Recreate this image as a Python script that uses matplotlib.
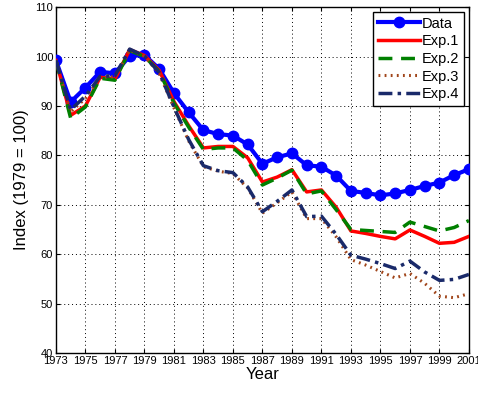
import numpy as np
import matplotlib
matplotlib.use("Agg")
import matplotlib.pyplot as plt

plt.rcParams['font.family'] = ['Liberation Sans', 'DejaVu Sans']

years = np.arange(1973, 2002)

data = [99.2, 90.8, 93.7, 96.9, 96.6, 100.1, 100.3, 97.5, 92.6, 88.7,
        85.1, 84.3, 84.0, 82.2, 78.3, 79.6, 80.4, 78.0, 77.7, 75.9,
        72.8, 72.4, 71.9, 72.3, 73.0, 73.8, 74.5, 76.0, 77.2]
exp1 = [99.2, 88.1, 90.0, 95.8, 95.4, 101.4, 100.2, 97.2, 90.9, 86.0,
        81.5, 81.8, 81.8, 79.5, 74.6, 75.6, 77.1, 72.6, 73.0, 69.5,
        64.7, 64.2, 63.6, 63.1, 64.9, 63.6, 62.2, 62.4, 63.6]
exp2 = [99.2, 87.5, 89.8, 95.6, 95.2, 101.2, 100.0, 97.0, 90.6, 85.7,
        81.2, 81.5, 81.5, 79.0, 74.0, 75.4, 77.0, 72.2, 72.8, 69.0,
        65.0, 64.8, 64.6, 64.4, 66.5, 65.6, 64.7, 65.4, 66.8]
exp3 = [99.2, 88.8, 91.5, 95.8, 95.9, 101.3, 100.0, 96.6, 89.6, 82.9,
        77.7, 76.8, 76.3, 73.4, 68.3, 70.4, 72.6, 67.2, 67.2, 63.5,
        58.9, 57.8, 56.5, 55.2, 56.1, 54.1, 51.5, 51.2, 52.0]
exp4 = [99.2, 89.2, 92.0, 96.0, 96.1, 101.5, 100.1, 96.8, 89.8, 83.2,
        77.9, 76.9, 76.5, 73.6, 68.6, 70.7, 73.0, 67.6, 67.7, 64.0,
        59.8, 59.0, 58.1, 57.1, 58.6, 56.4, 54.7, 54.9, 55.9]

xticks = np.arange(1973, 2002, 2)
yticks = np.arange(40, 111, 10)

fig = plt.figure(figsize=(4.78, 3.94), dpi=100)
ax = fig.add_axes([0.117, 0.104, 0.864, 0.878])

ax.plot(years, data, color='#0000FF', lw=3, marker='o', markersize=7.5,
        label='Data', zorder=3)
ax.plot(years, exp1, color='#FF0000', lw=2.5, label='Exp.1', zorder=4)
ax.plot(years, exp2, color='#008000', lw=2.5, ls=(0, (4, 2.5)), label='Exp.2', zorder=5)
ax.plot(years, exp3, color='#A0451A', lw=2.2, ls=(0, (0.6, 1.4)), label='Exp.3', zorder=6)
ax.plot(years, exp4, color='#1A2A6A', lw=2.5, ls=(0, (4, 1.5, 1, 1.5)), label='Exp.4', zorder=7)

ax.set_xlim(1973, 2001)
ax.set_ylim(40, 110)
ax.set_xticks(xticks)
ax.set_yticks(yticks)
ax.tick_params(direction='in', top=True, right=True, labelsize=8, length=3, pad=2)
ax.grid(True, color='black', ls=(0, (1, 3)), lw=0.7)
ax.set_xlabel('Year', fontsize=12, labelpad=1)
ax.set_ylabel('Index (1979 = 100)', fontsize=12, labelpad=4)
for s in ax.spines.values():
    s.set_linewidth(1.0)

leg = ax.legend(loc='upper right', fontsize=10.5, frameon=True, fancybox=False,
                edgecolor='black', framealpha=1, handlelength=2.9,
                handletextpad=0.15, borderpad=0.3, labelspacing=0.25,
                borderaxespad=0.35)
leg.get_frame().set_linewidth(1.0)

fig.savefig('out.png', dpi=100)
